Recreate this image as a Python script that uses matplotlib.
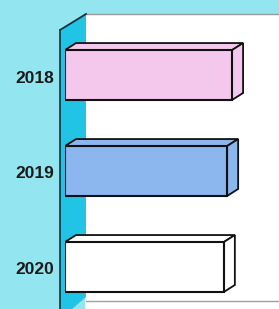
import matplotlib
matplotlib.use("Agg")
import matplotlib.pyplot as plt
import matplotlib.transforms as mtransforms
from matplotlib.patches import Polygon

# data
years = ["2018", "2019", "2020"]
values = [101.5, 98.5, 96.5]
face_colors = ["#f4c8ec", "#8cb6ee", "#ffffff"]

W, H = 279, 309
fig = plt.figure(figsize=(W / 100, H / 100), dpi=100)
fig.patch.set_facecolor("#93e6ef")

# background decoration (pixel coordinates)
bg = fig.add_axes([0, 0, 1, 1])
bg.set_xlim(0, W)
bg.set_ylim(H, 0)
bg.axis("off")
bg.add_patch(Polygon([(85, 14), (W, 14), (W, H), (85, H)], closed=True,
                     facecolor="white", edgecolor="none"))
bg.plot([85, W], [14, 14], color="#9a9a9a", lw=1.0)
bg.add_patch(Polygon([(60, 30), (86, 14), (86, 297), (72, H), (60, H)], closed=True,
                     facecolor="#22c4e6", edgecolor="none"))
bg.plot([60, 86], [30, 14], color="#1a3040", lw=1.3)
bg.plot([60, 60], [30, H], color="#1a3040", lw=1.2)
bg.plot([86, W], [301, 301], color="#a0a0a0", lw=1.0)

# data axes: x from pixel 65 to 279
x0 = 65
ax = fig.add_axes([x0 / W, 0, (W - x0) / W, 1])
ax.patch.set_alpha(0)
xmax = 130
ax.set_xlim(0, xmax)
ymin, ymax = -75 / 96, (H - 75) / 96
ax.set_ylim(ymax, ymin)
for s in ax.spines.values():
    s.set_visible(False)
ax.set_xticks([])

pos = list(range(len(years)))
h = 0.26
ax.barh(pos, values, height=2 * h, color=face_colors, edgecolor="#111111",
        linewidth=1.5, zorder=3)

pxu = (W - x0) / xmax
ddx = 11 / pxu
ddy = 7 / 96
for p, v, c in zip(pos, values, face_colors):
    top = p - h
    bot = p + h
    ax.add_patch(Polygon([(0, top), (v, top), (v + ddx, top - ddy), (ddx, top - ddy)],
                         closed=True, facecolor=c, edgecolor="#111111", lw=1.3, zorder=2))
    ax.add_patch(Polygon([(v, top), (v + ddx, top - ddy), (v + ddx, bot - ddy), (v, bot)],
                         closed=True, facecolor=c, edgecolor="#111111", lw=1.3, zorder=2))

ax.set_yticks(pos)
ax.set_yticklabels(years, fontfamily="Liberation Sans", fontweight="bold",
                   fontsize=12.5, color="#1a1a1a")
ax.tick_params(axis="y", length=0, pad=8)
shift = mtransforms.ScaledTranslation(0, -3 / 100, fig.dpi_scale_trans)
for lbl in ax.get_yticklabels():
    lbl.set_va("center")
    lbl.set_transform(lbl.get_transform() + shift)

fig.savefig("out.png", dpi=100, facecolor=fig.get_facecolor())
